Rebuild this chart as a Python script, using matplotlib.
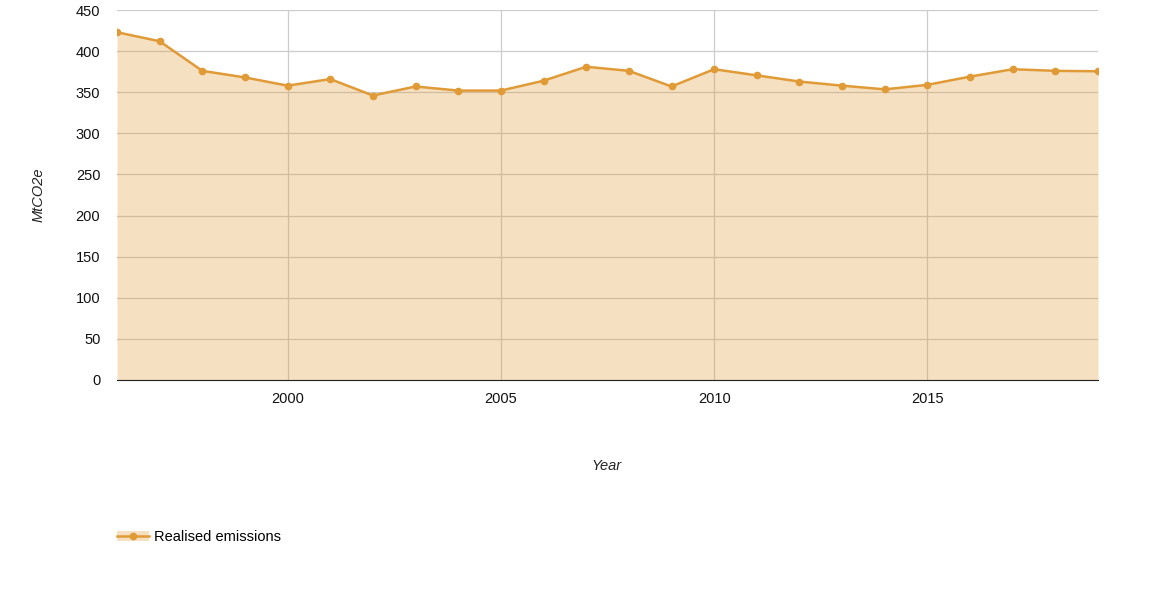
import numpy as np
import matplotlib.pyplot as plt
from matplotlib.patches import Patch

plt.rcParams['font.family'] = ['Liberation Sans', 'DejaVu Sans']

years = list(range(1996, 2020))
emissions = [423, 412, 376, 368, 358, 366, 346, 357, 352, 352,
             364, 381, 376, 357, 378, 370.5, 363, 358, 353.5, 359,
             369, 378, 376, 375.5]
xticks = [2000, 2005, 2010, 2015]
yticks = list(range(0, 451, 50))

orange = '#E09A36'

fig = plt.figure(figsize=(11.55, 6), dpi=100)
ax = fig.add_axes([0.1013, 0.3667, 0.8494, 0.6166])

ax.fill_between(years, emissions, 0, color=orange, alpha=0.3, linewidth=0, zorder=3)
ln, = ax.plot(years, emissions, color=orange, linewidth=1.8, marker='o',
              markersize=4.5, zorder=4)

ax.set_xlim(1996, 2019)
ax.set_ylim(0, 450)
ax.set_xticks(xticks)
ax.set_yticks(yticks)
ax.grid(True, color='#cccccc', linewidth=0.9, zorder=1)
ax.set_axisbelow(True)
for s in ['top', 'right', 'left']:
    ax.spines[s].set_visible(False)
ax.spines['bottom'].set_color('#222222')
ax.spines['bottom'].set_zorder(5)
ax.tick_params(axis='both', length=0, labelsize=10.5, colors='#111111')
ax.tick_params(axis='x', pad=9)
ax.tick_params(axis='y', pad=12)

fig.text(0.033, 0.675, 'MtCO2e', rotation=90, style='italic', fontsize=10.5,
         ha='center', va='center', color='#222222')
fig.text(0.5255, 0.223, 'Year', style='italic', fontsize=10.5,
         ha='center', va='center', color='#222222')

fill_patch = Patch(facecolor=orange, alpha=0.3, edgecolor='none')
fig.legend(handles=[(fill_patch, ln)], labels=['Realised emissions'],
           loc='center left', bbox_to_anchor=(0.1013, 0.105), frameon=False,
           fontsize=10.5, handlelength=2.2, handletextpad=0.35,
           borderpad=0, borderaxespad=0)

plt.savefig('out.png', dpi=100)
